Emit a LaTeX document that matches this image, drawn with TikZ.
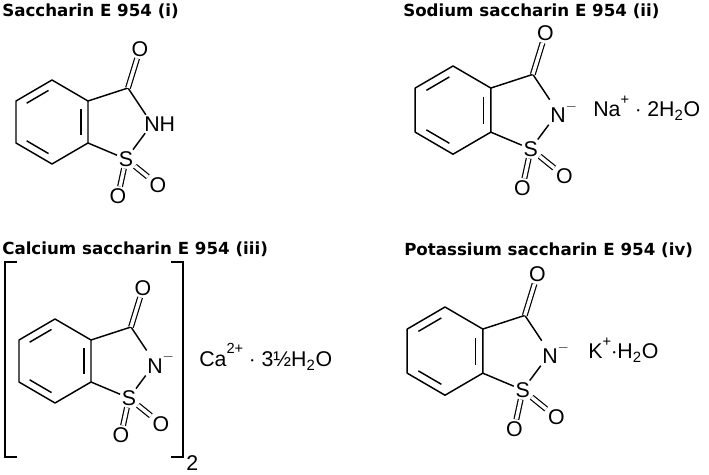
\documentclass[tikz,border=0pt]{standalone}
\usepackage{fontspec}
\setmainfont{Liberation Sans}
\newfontfamily\titlefont{DejaVu Sans}
\usetikzlibrary{calc}

\newcommand{\upchg}[1]{\raisebox{0.6em}{\fontsize{11}{12}\selectfont #1}}

\tikzset{
  title/.style={anchor=base west, inner sep=0pt, font=\titlefont\bfseries\fontsize{12.5}{14}\selectfont},
  atom/.style={inner sep=1.2pt, font=\fontsize{16}{18}\selectfont},
  ion/.style={anchor=west, inner sep=0pt, font=\fontsize{16}{18}\selectfont},
  bond/.style={line width=1.1pt},
  dbond/.style={double, double distance=2.6pt, line width=0.9pt},
  saccharin/.pic={
    % ring atoms
    \coordinate (-T) at (0,0);
    \coordinate (-UL) at (-36,21);
    \coordinate (-LL) at (-36,63);
    \coordinate (-B) at (0,84);
    \coordinate (-LR) at (36,63);
    \coordinate (-UR) at (36,21);
    \coordinate (-ctr) at (0,42);
    \coordinate (-C) at (76,8);
    \node[atom] (-O) at (88,-31) {O};
    \node[atom] (-N) at (100,44) {#1};
    \node[atom] (-S) at (74,79) {S};
    \node[atom] (-Oa) at (66,116) {O};
    \node[atom] (-Ob) at (106,105) {O};
    % bonds
    \draw[bond, line join=round] (-T) -- (-UL) -- (-LL) -- (-B) -- (-LR) -- (-UR) -- cycle;
    \draw[bond] (-UR) -- (-C) -- (-N) -- (-S) -- (-LR);
    \draw[dbond] (-C) -- (-O);
    \draw[dbond] (-S) -- (-Oa);
    \draw[dbond] (-S) -- (-Ob);
    % inner ring lines
    \foreach \a/\b in {T/UL, LL/B, UR/LR}{
      \coordinate (-i1) at ($(-ctr)!0.8!(-\a)$);
      \coordinate (-i2) at ($(-ctr)!0.8!(-\b)$);
      \draw[bond] ($(-i1)!0.12!(-i2)$) -- ($(-i1)!0.88!(-i2)$);
    }
  }
}

\begin{document}
\begin{tikzpicture}[x=0.75pt,y=0.75pt,yscale=-1,xscale=1]
\useasboundingbox (0,0) rectangle (709,474);

% titles
\node[title] (t1) at (2,17) {Saccharin E 954 (i)};
\node[title] (t2) at (403,17) {Sodium saccharin E 954 (ii)};
\node[title] (t3) at (2,254) {Calcium saccharin E 954 (iii)};
\node[title] (t4) at (404,255) {Potassium saccharin E 954 (iv)};

% molecules
\pic[yscale=-1] (m1) at (52,80) {saccharin={N\rlap{H}}};
\pic[yscale=-1.05,xscale=1.05] (m2) at (453,66) {saccharin={N\rlap{\upchg{$-$}}}};
\pic[yscale=-1] (m3) at (55,319) {saccharin={N\rlap{\upchg{$-$}}}};
\pic[yscale=-1.05,xscale=1.05] (m4) at (445,307) {saccharin={N\rlap{\upchg{$-$}}}};

% counter ions
\node[ion] (na) at (593,108) {Na\upchg{+} $\cdot$ 2H\textsubscript{2}O};
\node[ion] (ca) at (199,357) {Ca\upchg{2+} $\cdot$ 3½H\textsubscript{2}O};
\node[ion] (k) at (588,350) {K\upchg{+}$\cdot$H\textsubscript{2}O};

% brackets
\draw[bond] (17,262) -- (5,262) -- (5,457) -- (17,457);
\draw[bond] (171,262) -- (183,262) -- (183,457) -- (171,457);
\node[ion] (two) at (186,463) {2};
\end{tikzpicture}
\end{document}
